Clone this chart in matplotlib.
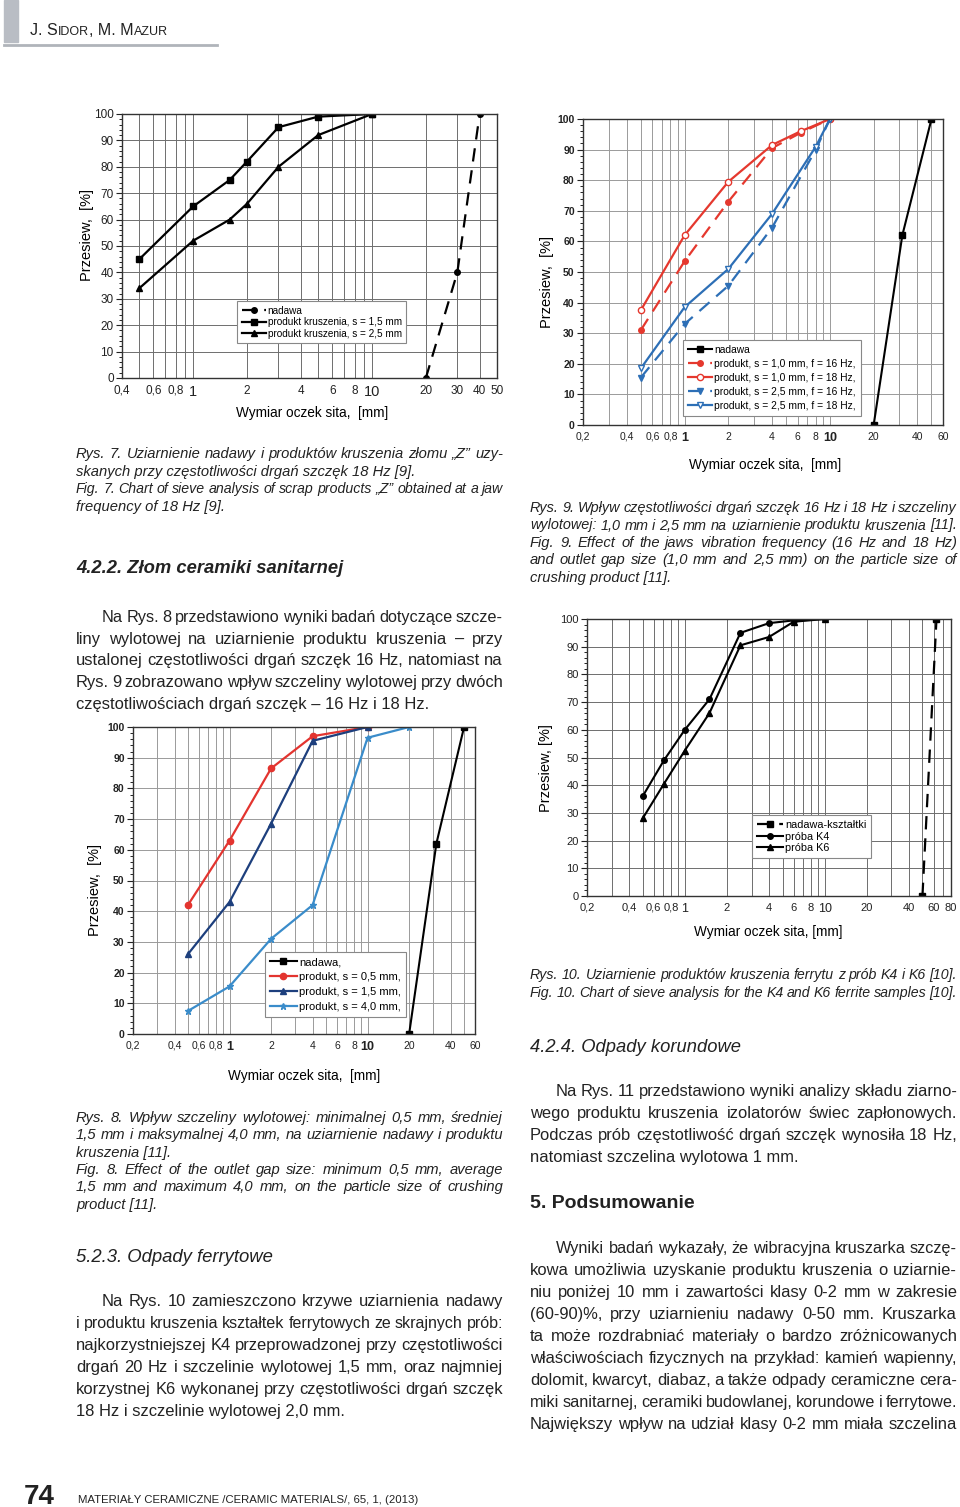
import numpy as np
import matplotlib
matplotlib.use('Agg')
import matplotlib.pyplot as plt
from matplotlib.ticker import FixedLocator, LogLocator, NullFormatter, MultipleLocator
from matplotlib.patches import Rectangle
from matplotlib.lines import Line2D

plt.rcParams['font.family'] = ['Liberation Sans', 'DejaVu Sans']

# ---- data ----
# Rys. 7
sieve7 = [0.5, 1, 1.6, 2, 3, 5, 10]
pass7_s15 = [45, 65, 75, 82, 95, 99, 100]
pass7_s25 = [34, 52, 60, 66, 80, 92, 100]
sieve7_feed = [20, 30, 40]
pass7_feed = [0, 40, 100]

# Rys. 9
sieve9_s10 = [0.5, 1, 2, 4, 6.3, 10]
pass9_s10_16 = [31, 53.5, 73, 90.5, 95.5, 100]
pass9_s10_18 = [37.5, 62, 79.5, 91.5, 96, 100]
sieve9_s25 = [0.5, 1, 2, 4, 8, 10]
pass9_s25_16 = [15.5, 33, 45.5, 64.5, 90, 100]
pass9_s25_18 = [18.5, 38.5, 51, 69, 91, 100]
sieve9_feed = [20, 31.5, 50]
pass9_feed = [0, 62, 100]

# Rys. 8
sieve8 = [0.5, 1, 2, 4, 10]
pass8_s05 = [42, 63, 86.5, 97, 100]
pass8_s15 = [26, 43, 68.5, 95.5, 100]
sieve8_s40 = [0.5, 1, 2, 4, 10, 20]
pass8_s40 = [7.5, 15.5, 31, 42, 96.5, 100]
sieve8_feed = [20, 31.5, 50]
pass8_feed = [0, 62, 100]

# Rys. 10
sieve10 = [0.5, 0.71, 1, 1.5, 2.5, 4, 6, 10]
pass10_k4 = [36, 49, 60, 71, 95, 98.5, 99.5, 100]
pass10_k6 = [28, 40.5, 52.5, 66, 90.5, 93.5, 99, 100]
sieve10_feed = [50, 63]
pass10_feed = [0, 100]

ticks7 = [0.4, 0.6, 0.8, 1, 2, 4, 6, 8, 10, 20, 30, 40, 50]
labels7 = ['0,4', '0,6', '0,8', '1', '2', '4', '6', '8', '10', '20', '30', '40', '50']
ticks9 = [0.2, 0.4, 0.6, 0.8, 1, 2, 4, 6, 8, 10, 20, 40, 60]
labels9 = ['0,2', '0,4', '0,6', '0,8', '1', '2', '4', '6', '8', '10', '20', '40', '60']
ticks10 = [0.2, 0.4, 0.6, 0.8, 1, 2, 4, 6, 8, 10, 20, 40, 60, 80]
labels10 = ['0,2', '0,4', '0,6', '0,8', '1', '2', '4', '6', '8', '10', '20', '40', '60', '80']

# ---- page ----
W, H = 960, 1507
fig = plt.figure(figsize=(W / 100, H / 100), dpi=100)
rend = fig.canvas.get_renderer()


def fx(x):
    return x / W


def fy(y):
    return 1 - y / H


def text_w(s, **kw):
    t = fig.text(0, 0, s, **kw)
    w = t.get_window_extent(rend).width
    t.remove()
    return w


def para(lines, x0, x1, y0, dy, indent=0, last_just=False, **kw):
    for i, line in enumerate(lines):
        xs = x0 + (indent if i == 0 else 0)
        y = y0 + i * dy
        words = line.split(' ')
        just = (i < len(lines) - 1 or last_just) and len(words) > 1
        if not just:
            fig.text(fx(xs), fy(y), line, va='baseline', **kw)
            continue
        lk = dict(kw)
        ws = [text_w(w, **lk) for w in words]
        # shrink the line a little if it would not fit with sane gaps
        while sum(ws) + 3.2 * (len(words) - 1) > x1 - xs:
            lk['fontsize'] = lk['fontsize'] - 0.2
            ws = [text_w(w, **lk) for w in words]
        gap = (x1 - xs - sum(ws)) / (len(words) - 1)
        x = xs
        for w, wd in zip(words, ws):
            fig.text(fx(x), fy(y), w, va='baseline', **lk)
            x += wd + gap


def run(x, y, parts, **kw):
    for s, size in parts:
        fig.text(fx(x), fy(y), s, va='baseline', fontsize=size, **kw)
        x += text_w(s, fontsize=size, **kw)


def add_axes(l, t, r, b):
    return fig.add_axes([fx(l), fy(b), (r - l) / W, (b - t) / H])


def setup(ax, xlim, ticks, labels, fs=7.5, big=9, bold=False, gcol='#8c8c8c'):
    ax.set_xscale('log')
    ax.set_xlim(*xlim)
    ax.set_ylim(0, 100)
    ax.xaxis.set_major_locator(FixedLocator(ticks))
    ax.set_xticklabels(labels)
    ax.xaxis.set_minor_locator(LogLocator(base=10, subs=np.arange(1, 10), numticks=30))
    ax.xaxis.set_minor_formatter(NullFormatter())
    ax.set_yticks(range(0, 101, 10))
    ax.yaxis.set_minor_locator(MultipleLocator(2))
    ax.tick_params(axis='x', which='both', length=0, pad=5, labelsize=fs, colors='#222')
    ax.tick_params(axis='y', which='major', length=4, pad=2, labelsize=fs, colors='#222')
    ax.tick_params(axis='y', which='minor', length=2)
    for lab in ax.get_xticklabels():
        if lab.get_text() in ('1', '10'):
            lab.set_fontsize(big)
            if bold:
                lab.set_fontweight('bold')
    if bold:
        for lab in ax.get_yticklabels():
            lab.set_fontweight('bold')
    ax.grid(True, which='both', axis='x', color=gcol, lw=0.7)
    ax.grid(True, which='major', axis='y', color=gcol, lw=0.7)
    ax.set_axisbelow(True)
    for sp in ax.spines.values():
        sp.set_color('#333')
        sp.set_linewidth(1.0)


def legend(ax, anchor, fs, ls=0.15):
    leg = ax.legend(loc='upper left', bbox_to_anchor=anchor, fontsize=fs, frameon=True,
                    fancybox=False, edgecolor='#888888', framealpha=1, handlelength=2.4,
                    borderpad=0.45, labelspacing=ls, handletextpad=0.2, borderaxespad=0)
    leg.get_frame().set_linewidth(0.8)


# header
fig.patches.append(Rectangle((fx(4), fy(42)), 14 / W, 42 / H, transform=fig.transFigure,
                             color='#b9bdc4', zorder=0))
fig.add_artist(Line2D([fx(4), fx(217)], [fy(45), fy(45)], color='#b0b4ba', lw=2))
run(30, 35, [('J. S', 11.5), ('IDOR', 9), (', M. M', 11.5), ('AZUR', 9)], color='#222')

lab_fs = 9.8

# ---- Rys. 7 ----
ax7 = add_axes(122, 114, 497, 378)
setup(ax7, (0.4, 50), ticks7, labels7, fs=8.5, big=10.5, gcol='#6e6e6e')
ax7.plot(sieve7_feed, pass7_feed, color='k', lw=1.6, dashes=(6, 4), marker='o', ms=4,
         label='nadawa')
ax7.plot(sieve7, pass7_s15, color='k', lw=1.6, marker='s', ms=4,
         label='produkt kruszenia, s = 1,5 mm')
ax7.plot(sieve7, pass7_s25, color='k', lw=1.6, marker='^', ms=4,
         label='produkt kruszenia, s = 2,5 mm')
legend(ax7, (0.307, 0.29), 7.2)
fig.text(fx(87), fy(235), 'Przesiew,  [%]', rotation=90, ha='center', va='center', fontsize=10.5)
fig.text(fx(312), fy(413), 'Wymiar oczek sita,  [mm]', ha='center', va='center', fontsize=lab_fs)

# ---- Rys. 9 ----
red, blue = '#e5382e', '#2d6fb6'
ax9 = add_axes(583, 119, 943, 425)
setup(ax9, (0.2, 60), ticks9, labels9, fs=7.5, big=9, bold=True, gcol='#9a9a9a')
ax9.plot(sieve9_feed, pass9_feed, color='k', lw=1.5, marker='s', ms=4, label='nadawa')
ax9.plot(sieve9_s10, pass9_s10_16, color=red, lw=1.6, dashes=(6, 4), marker='o', ms=4,
         label='produkt, s = 1,0 mm, f = 16 Hz,')
ax9.plot(sieve9_s10, pass9_s10_18, color=red, lw=1.6, marker='o', ms=4.5, mfc='white',
         label='produkt, s = 1,0 mm, f = 18 Hz,')
ax9.plot(sieve9_s25, pass9_s25_16, color=blue, lw=1.6, dashes=(6, 4), marker='v', ms=4.5,
         label='produkt, s = 2,5 mm, f = 16 Hz,')
ax9.plot(sieve9_s25, pass9_s25_18, color=blue, lw=1.6, marker='v', ms=4.5, mfc='white',
         label='produkt, s = 2,5 mm, f = 18 Hz,')
legend(ax9, (0.278, 0.278), 7.4, ls=0.4)
fig.text(fx(547), fy(282), 'Przesiew,  [%]', rotation=90, ha='center', va='center', fontsize=10.5)
fig.text(fx(765), fy(465), 'Wymiar oczek sita,  [mm]', ha='center', va='center', fontsize=lab_fs)

# ---- Rys. 8 ----
ax8 = add_axes(133, 727, 475, 1034)
setup(ax8, (0.2, 60), ticks9, labels9, fs=7.5, big=9, bold=True, gcol='#9a9a9a')
ax8.plot(sieve8_feed, pass8_feed, color='k', lw=1.5, marker='s', ms=4, label='nadawa,')
ax8.plot(sieve8, pass8_s05, color='#e3342f', lw=1.6, marker='o', ms=4.5,
         label='produkt, s = 0,5 mm,')
ax8.plot(sieve8, pass8_s15, color='#1d3f7d', lw=1.6, marker='^', ms=4.5,
         label='produkt, s = 1,5 mm,')
ax8.plot(sieve8_s40, pass8_s40, color='#3a8cca', lw=1.6, marker='*', ms=5,
         label='produkt, s = 4,0 mm,')
legend(ax8, (0.386, 0.267), 8, ls=0.45)
fig.text(fx(95), fy(890), 'Przesiew,  [%]', rotation=90, ha='center', va='center', fontsize=10.5)
fig.text(fx(304), fy(1076), 'Wymiar oczek sita,  [mm]', ha='center', va='center', fontsize=lab_fs)

# ---- Rys. 10 ----
ax10 = add_axes(587, 619, 951, 896)
setup(ax10, (0.2, 80), ticks10, labels10, fs=8, big=9, gcol='#6e6e6e')
ax10.plot(sieve10_feed, pass10_feed, color='k', lw=1.6, dashes=(6, 4), marker='s', ms=4,
          label='nadawa-kształtki')
ax10.plot(sieve10, pass10_k4, color='k', lw=1.5, marker='o', ms=4, label='próba K4')
ax10.plot(sieve10, pass10_k6, color='k', lw=1.5, marker='^', ms=4, label='próba K6')
legend(ax10, (0.453, 0.292), 7.8)
fig.text(fx(546), fy(768), 'Przesiew, [%]', rotation=90, ha='center', va='center', fontsize=10.5)
fig.text(fx(768), fy(932), 'Wymiar oczek sita, [mm]', ha='center', va='center', fontsize=lab_fs)

# ---- text, left column ----
cap = dict(fontsize=10.6, style='italic', color='#222')
body = dict(fontsize=11.9, color='#222')

para(['Rys. 7. Uziarnienie nadawy i produktów kruszenia złomu „Z” uzy-',
      'skanych przy częstotliwości drgań szczęk 18 Hz [9].'], 76, 503, 458, 17.7, **cap)
para(['Fig. 7. Chart of sieve analysis of scrap products „Z” obtained at a jaw',
      'frequency of 18 Hz [9].'], 76, 503, 493, 17.7, **cap)
fig.text(fx(76), fy(573), '4.2.2. Złom ceramiki sanitarnej', va='baseline', fontsize=13.2,
         style='italic', weight='bold', color='#222')
para(['Na Rys. 8 przedstawiono wyniki badań dotyczące szcze-',
      'liny wylotowej na uziarnienie produktu kruszenia – przy',
      'ustalonej częstotliwości drgań szczęk 16 Hz, natomiast na',
      'Rys. 9 zobrazowano wpływ szczeliny wylotowej przy dwóch',
      'częstotliwościach drgań szczęk – 16 Hz i 18 Hz.'], 76, 503, 622, 21.7, indent=26, **body)

para(['Rys. 8. Wpływ szczeliny wylotowej: minimalnej 0,5 mm, średniej',
      '1,5 mm i maksymalnej 4,0 mm, na uziarnienie nadawy i produktu',
      'kruszenia [11].'], 76, 503, 1122, 17.4, **cap)
para(['Fig. 8. Effect of the outlet gap size: minimum 0,5 mm, average',
      '1,5 mm and maximum 4,0 mm, on the particle size of crushing',
      'product [11].'], 76, 503, 1174, 17.4, **cap)
fig.text(fx(76), fy(1262), '5.2.3. Odpady ferrytowe', va='baseline', fontsize=13.3,
         style='italic', color='#222')
para(['Na Rys. 10 zamieszczono krzywe uziarnienia nadawy',
      'i produktu kruszenia kształtek ferrytowych ze skrajnych prób:',
      'najkorzystniejszej K4 przeprowadzonej przy częstotliwości',
      'drgań 20 Hz i szczelinie wylotowej 1,5 mm, oraz najmniej',
      'korzystnej K6 wykonanej przy częstotliwości drgań szczęk',
      '18 Hz i szczelinie wylotowej 2,0 mm.'], 76, 503, 1306, 22, indent=26, **body)

# ---- text, right column ----
para(['Rys. 9. Wpływ częstotliwości drgań szczęk 16 Hz i 18 Hz i szczeliny',
      'wylotowej: 1,0 mm i 2,5 mm na uziarnienie produktu kruszenia [11].'],
     530, 957, 512, 17.5, last_just=True, **cap)
para(['Fig. 9. Effect of the jaws vibration frequency (16 Hz and 18 Hz)',
      'and outlet gap size (1,0 mm and 2,5 mm) on the particle size of',
      'crushing product [11].'], 530, 957, 547, 17.5, **cap)
para(['Rys. 10. Uziarnienie produktów kruszenia ferrytu z prób K4 i K6 [10].'],
     530, 957, 979, 18, last_just=True, **cap)
para(['Fig. 10. Chart of sieve analysis for the K4 and K6 ferrite samples [10].'],
     530, 957, 997, 18, last_just=True, **cap)
fig.text(fx(530), fy(1052), '4.2.4. Odpady korundowe', va='baseline', fontsize=13.2,
         style='italic', color='#222')
para(['Na Rys. 11 przedstawiono wyniki analizy składu ziarno-',
      'wego produktu kruszenia izolatorów świec zapłonowych.',
      'Podczas prób częstotliwość drgań szczęk wynosiła 18 Hz,',
      'natomiast szczelina wylotowa 1 mm.'], 530, 957, 1096, 22, indent=26, **body)
fig.text(fx(530), fy(1208), '5. Podsumowanie', va='baseline', fontsize=14,
         weight='bold', color='#222')
para(['Wyniki badań wykazały, że wibracyjna kruszarka szczę-',
      'kowa umożliwia uzyskanie produktu kruszenia o uziarnie-',
      'niu poniżej 10 mm i zawartości klasy 0-2 mm w zakresie',
      '(60-90)%, przy uziarnieniu nadawy 0-50 mm. Kruszarka',
      'ta może rozdrabniać materiały o bardzo zróżnicowanych',
      'właściwościach fizycznych na przykład: kamień wapienny,',
      'dolomit, kwarcyt, diabaz, a także odpady ceramiczne cera-',
      'miki sanitarnej, ceramiki budowlanej, korundowe i ferrytowe.',
      'Największy wpływ na udział klasy 0-2 mm miała szczelina'],
     530, 957, 1253, 22, indent=26, last_just=True, **body)

# footer
fig.text(fx(24), fy(1504), '74', va='baseline', fontsize=20, weight='bold', color='#222')
fig.text(fx(78), fy(1503), 'MATERIAŁY CERAMICZNE /CERAMIC MATERIALS/, 65, 1, (2013)',
         va='baseline', fontsize=8.2, color='#222')

fig.savefig('out.png', dpi=100)
